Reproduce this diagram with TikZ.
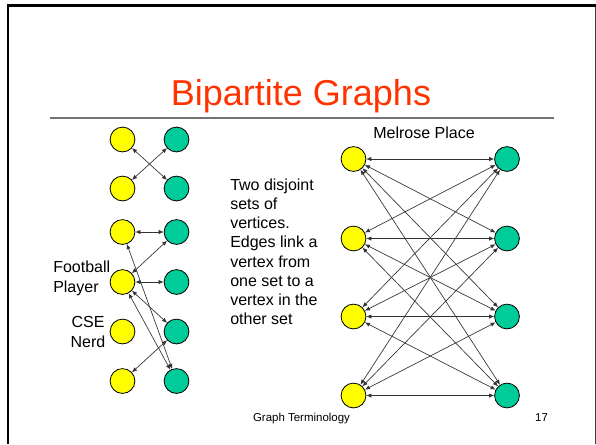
\documentclass[tikz,border=0pt]{standalone}
\usepackage{fontspec}
\setmainfont{Liberation Sans}
\usetikzlibrary{arrows.meta}
\definecolor{vyellow}{HTML}{FFFF00}
\definecolor{vgreen}{HTML}{00CC99}
\definecolor{titlered}{HTML}{FF3300}
\tikzset{
  vtx/.style={circle, draw=black, line width=0.6pt, minimum size=18.6pt, inner sep=0pt},
  yv/.style={vtx, fill=vyellow},
  gv/.style={vtx, fill=vgreen},
  link/.style={draw=black!80, line width=0.5pt, {Latex[length=3.8pt,width=3.2pt]}-{Latex[length=3.8pt,width=3.2pt]}},
  body/.style={font=\fontsize{12}{14.4}\selectfont, inner sep=0pt},
  foot/.style={font=\fontsize{8.6}{10}\selectfont, anchor=base, inner sep=0pt},
}
\begin{document}
\begin{tikzpicture}[x=0.75pt,y=-0.75pt]
\useasboundingbox (0,0) rectangle (596,444);
% slide frame
\draw[black!75, line width=0.75pt] (595,5) -- (595,444);
\draw[black, line width=1.9pt] (8,444) -- (8,5.5) -- (595.5,5.5);
% title and rule
\node[font=\fontsize{27}{30}\selectfont, text=titlered, anchor=base, inner sep=0pt] (title) at (301,105) {Bipartite Graphs};
\draw[black!55, line width=1.1pt] (50,118) -- (554,118);

% left: small bipartite examples
\foreach \r/\y in {1/139.5,2/188.5,3/232,4/282,5/331.5,6/381} {
  \node[yv] (ly\r) at (122.5,\y) {};
  \node[gv] (lg\r) at (176.5,\y) {};
}
\draw[link] (ly1) -- (lg2);
\draw[link] (ly2) -- (lg1);
\draw[link] (ly3) -- (lg3);
\draw[link] (ly3) -- (lg6);
\draw[link] (ly4) -- (lg3);
\draw[link] (ly4) -- (lg4);
\draw[link] (ly4) -- (lg5);
\draw[link] (ly4) -- (lg6);
\draw[link] (ly6) -- (lg5);

\node[font=\fontsize{12}{15}\selectfont, inner sep=0pt, align=left, anchor=north west] (football) at (53,261) {Football\\Player};
\node[body, align=center] (nerd) at (88,332) {CSE\\Nerd};

% explanation
\node[body, align=left, anchor=north west] (expl) at (230,178.5)
  {Two disjoint\\sets of\\vertices.\\Edges link a\\vertex from\\one set to a\\vertex in the\\other set};

% right: complete bipartite graph
\node[body, anchor=base] (melrose) at (424,138) {Melrose Place};
\foreach \r/\y in {1/159,2/238.5,3/316.5,4/395.5} {
  \node[yv] (ry\r) at (353.5,\y) {};
  \node[gv] (rg\r) at (507,\y) {};
}
\foreach \i in {1,...,4} {
  \foreach \j in {1,...,4} {
    \draw[link] (ry\i) -- (rg\j);
  }
}

% footer
\node[foot] (footer) at (301.5,421.5) {Graph Terminology};
\node[foot] (pagenum) at (541.5,421.5) {17};
\end{tikzpicture}
\end{document}
